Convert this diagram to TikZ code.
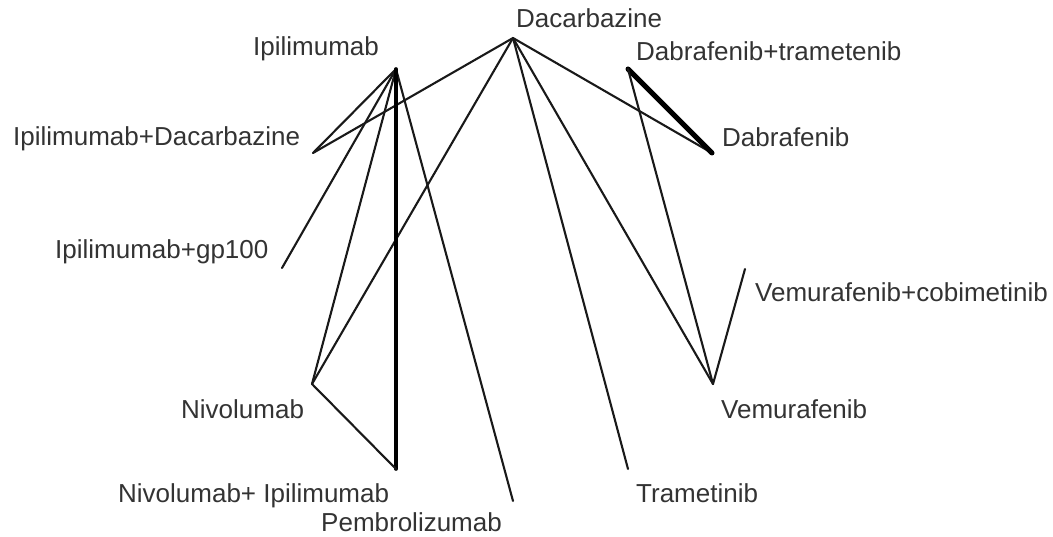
\documentclass[tikz,border=0pt]{standalone}
\usepackage{fontspec}
\setmainfont{Liberation Sans}
\begin{document}
\begin{tikzpicture}[x=1pt,y=-1pt,
  lbl/.style={inner sep=0pt,anchor=base west,text=black!80,font=\fontsize{26}{30}\selectfont},
  edge/.style={line width=2.1pt,black!90,line cap=round},
  edgethick/.style={line width=3.6pt,black,line cap=round},
  edgethicker/.style={line width=5pt,black,line cap=round}]
\useasboundingbox (0,0) rectangle (1053,537);
% network points
\coordinate (dac) at (513,38);
\coordinate (ipi) at (396,69);
\coordinate (dabtra) at (628,69);
\coordinate (ipidac) at (313,153);
\coordinate (dab) at (712,153);
\coordinate (ipigp) at (282,268);
\coordinate (vemcob) at (745,269);
\coordinate (niv) at (312,384);
\coordinate (vem) at (713,384);
\coordinate (nivipi) at (396,469);
\coordinate (tra) at (628,469);
\coordinate (pem) at (513,501);
% labels
\node[lbl] (tdac) at (516,28) {Dacarbazine};
\node[lbl] (tipi) at (253,56) {Ipilimumab};
\node[lbl] (tdabtra) at (636,61) {Dabrafenib+trametenib};
\node[lbl] (tipidac) at (13,146) {Ipilimumab+Dacarbazine};
\node[lbl] (tdab) at (722,147) {Dabrafenib};
\node[lbl] (tipigp) at (55,259) {Ipilimumab+gp100};
\node[lbl] (tvemcob) at (755,302) {Vemurafenib+cobimetinib};
\node[lbl] (tniv) at (181,418) {Nivolumab};
\node[lbl] (tvem) at (721,418) {Vemurafenib};
\node[lbl] (tnivipi) at (118,502) {Nivolumab+ Ipilimumab};
\node[lbl] (ttra) at (636,502) {Trametinib};
\node[lbl] (tpem) at (321,531) {Pembrolizumab};
% edges
\draw[edge] (dac) -- (ipidac);
\draw[edge] (dac) -- (dab);
\draw[edge] (dac) -- (niv);
\draw[edge] (dac) -- (tra);
\draw[edge] (dac) -- (vem);
\draw[edge] (ipi) -- (ipidac);
\draw[edge] (ipi) -- (ipigp);
\draw[edge] (ipi) -- (niv);
\draw[edge] (ipi) -- (pem);
\draw[edgethick] (ipi) -- (nivipi);
\draw[edge] (niv) -- (nivipi);
\draw[edgethicker] (dabtra) -- (dab);
\draw[edge] (dabtra) -- (vem);
\draw[edge] (vem) -- (vemcob);
\end{tikzpicture}
\end{document}
